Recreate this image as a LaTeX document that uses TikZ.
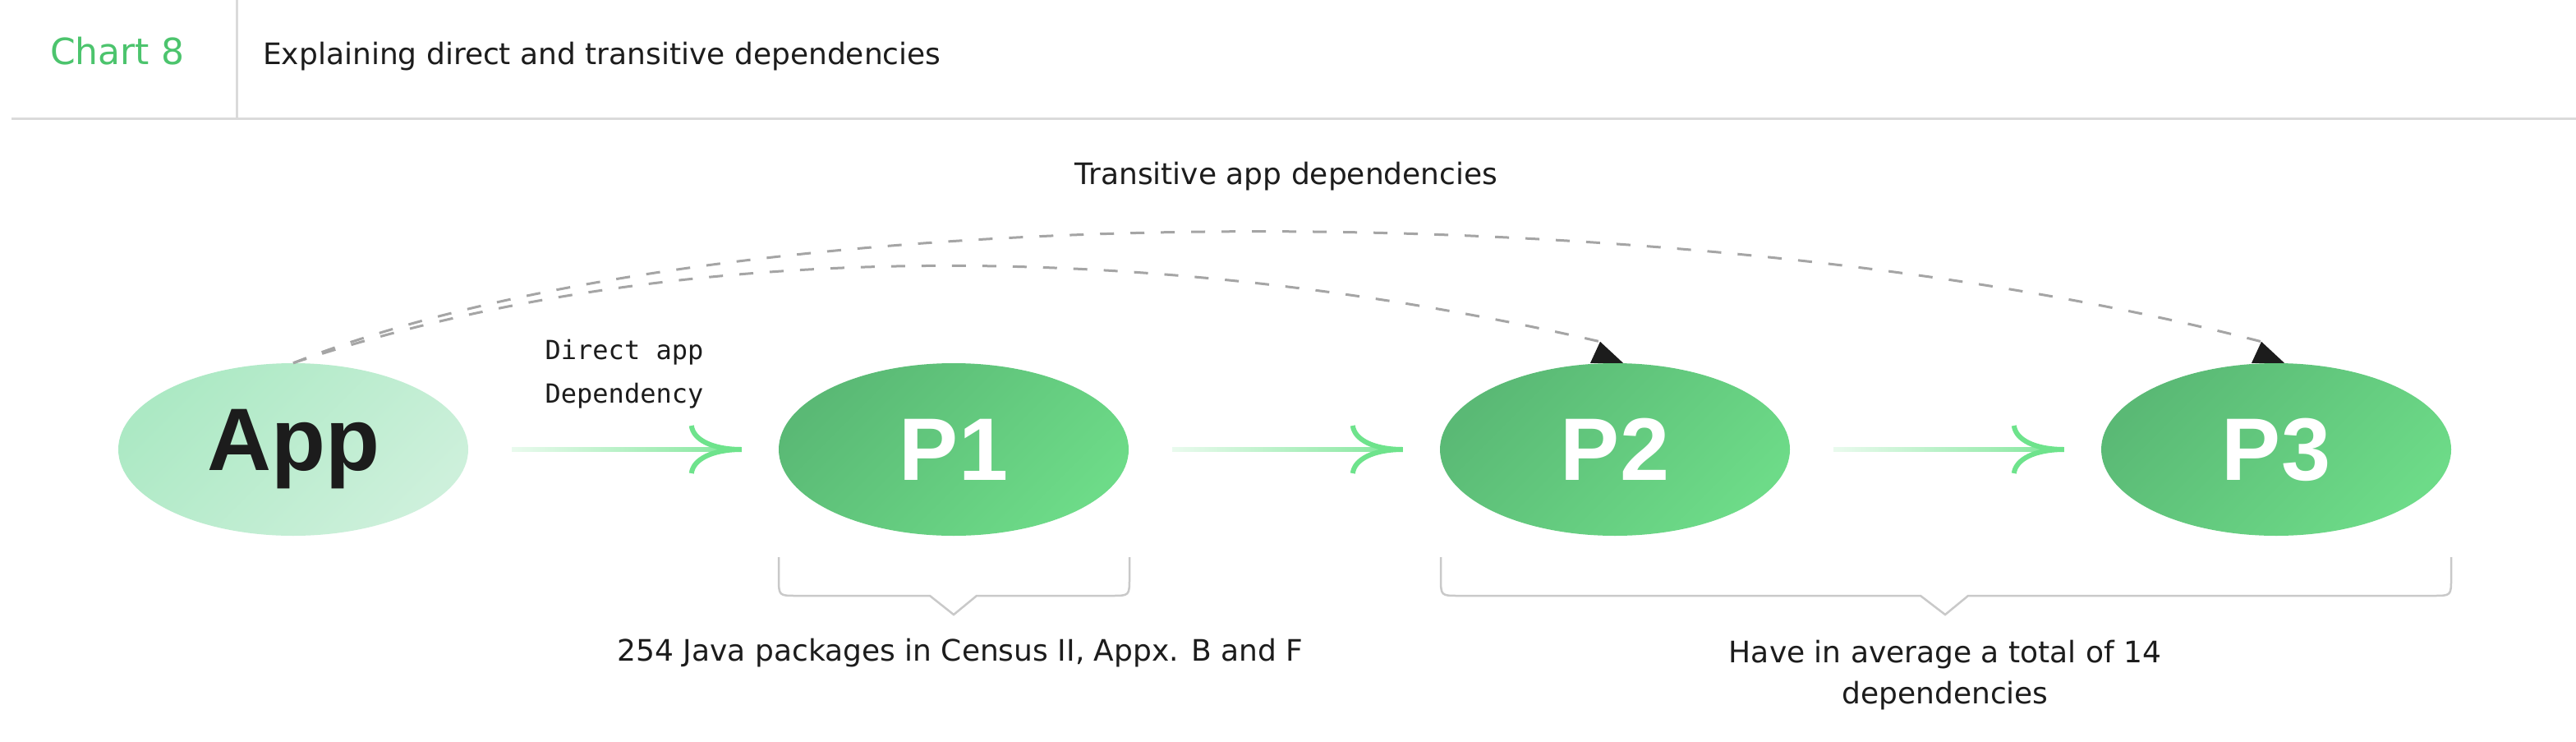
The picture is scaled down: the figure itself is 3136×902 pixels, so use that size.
\documentclass[tikz,border=0pt]{standalone}
\usepackage{fontspec}
\setmainfont{DejaVu Sans}
\newfontfamily\grosfont{Liberation Sans}
\newfontfamily\monofont{DejaVu Sans Mono}
\usetikzlibrary{shapes.geometric,fadings}

\definecolor{vertfonce}{HTML}{5AB975}
\definecolor{vertclair}{HTML}{6DDB88}
\definecolor{menthe}{HTML}{ACE9C4}
\definecolor{mentheclair}{HTML}{CDF0DB}
\definecolor{vertfleche}{HTML}{6EE38C}
\definecolor{vertchart}{HTML}{4CC46D}
\definecolor{gristrait}{HTML}{DADADA}
\definecolor{grisaccolade}{HTML}{C9C9C9}
\definecolor{grispoint}{HTML}{A5A5A5}
\definecolor{encre}{HTML}{1C1C1C}

\newcommand\barbes[1]{\draw[barbe] ([xshift=-106pt,yshift=29pt]#1.west) .. controls ([xshift=-104pt,yshift=12pt]#1.west) and ([xshift=-81pt]#1.west) .. ([xshift=-45pt]#1.west) .. controls ([xshift=-81pt]#1.west) and ([xshift=-104pt,yshift=-12pt]#1.west) .. ([xshift=-106pt,yshift=-29pt]#1.west);}

\begin{document}
\begin{tikzpicture}[x=1pt,y=-1pt]
\tikzset{bulle/.style={ellipse, minimum width=426pt, minimum height=210pt, inner sep=0pt, top color=vertfonce, bottom color=vertclair, shading angle=45, text=white, font=\grosfont\bfseries\fontsize{108}{108}\selectfont}}
\tikzset{fleche/.style={line width=6pt, draw=vertfleche, path fading=west, shorten <=53pt, shorten >=45pt}}
\tikzset{barbe/.style={line width=6pt, draw=vertfleche}}
\tikzset{pointille/.style={line width=3pt, draw=grispoint, dash pattern=on 17pt off 20pt}}
\tikzset{accolade/.style={line width=2.5pt, draw=grisaccolade}}
\tikzset{texte/.style={font=\fontsize{36}{50}\selectfont, text=encre, align=center}}
\useasboundingbox (0,0) rectangle (3136,902);
\fill[white] (0,0) rectangle (3136,902);
% en-tete
\draw[line width=3pt, draw=gristrait] (14,144) -- (3136,144);
\draw[line width=3pt, draw=gristrait] (288,0) -- (288,144);
\node[anchor=base west, inner sep=0pt, text=vertchart, font=\fontsize{44}{44}\selectfont] (chart) at (61,78) {Chart 8};
\node[anchor=base west, inner sep=0pt, text=encre, font=\fontsize{36}{36}\selectfont] (titre) at (320,78) {Explaining direct and transitive dependencies};
% bulles
\node[bulle, top color=menthe, bottom color=mentheclair, shading angle=45, text=encre] (App) at (357,547) {App};
\node[bulle] (P1) at (1161,547) {P1};
\node[bulle] (P2) at (1966,547) {P2};
\node[bulle] (P3) at (2771,547) {P3};
% dependances directes
\draw[fleche] (App) -- (P1);
\draw[fleche] (P1) -- (P2);
\draw[fleche] (P2) -- (P3);
\barbes{P1}
\barbes{P2}
\barbes{P3}
% dependances transitives
\coordinate (pointe2) at ([xshift=-18pt,yshift=26pt]P2.north);
\coordinate (pointe3) at ([xshift=-18pt,yshift=26pt]P3.north);
\draw[pointille] (App.north) .. controls +(480,-161) and +(-520,-120) .. (pointe2);
\draw[pointille] (App.north) .. controls +(525,-209) and +(-703,-183) .. (pointe3);
\fill[encre] (pointe2) -- ([xshift=-30pt]P2.north) -- ([xshift=10pt]P2.north) -- cycle;
\fill[encre] (pointe3) -- ([xshift=-30pt]P3.north) -- ([xshift=10pt]P3.north) -- cycle;
% accolades
\draw[accolade] (948,678) -- (948,703) .. controls (948,725) .. (970,725) -- (1132,725) -- (1161,748) -- (1189,725) -- (1353,725) .. controls (1375,725) .. (1375,703) -- (1375,678);
\draw[accolade] (1754,678) -- (1754,703) .. controls (1754,725) .. (1776,725) -- (2338,725) -- (2368,748) -- (2396,725) -- (2962,725) .. controls (2984,725) .. (2984,703) -- (2984,678);
% textes
\node[texte] (transitif) at (1566,215) {Transitive app dependencies};
\node[texte, font=\monofont\fontsize{32}{53}\selectfont] (direct) at (760,455) {Direct app\\Dependency};
\node[texte] (note1) at (1169,795) {254 Java packages in Census II, Appx. B and F};
\node[texte] (note2) at (2368,822) {Have in average a total of 14\\dependencies};
\end{tikzpicture}
\end{document}
